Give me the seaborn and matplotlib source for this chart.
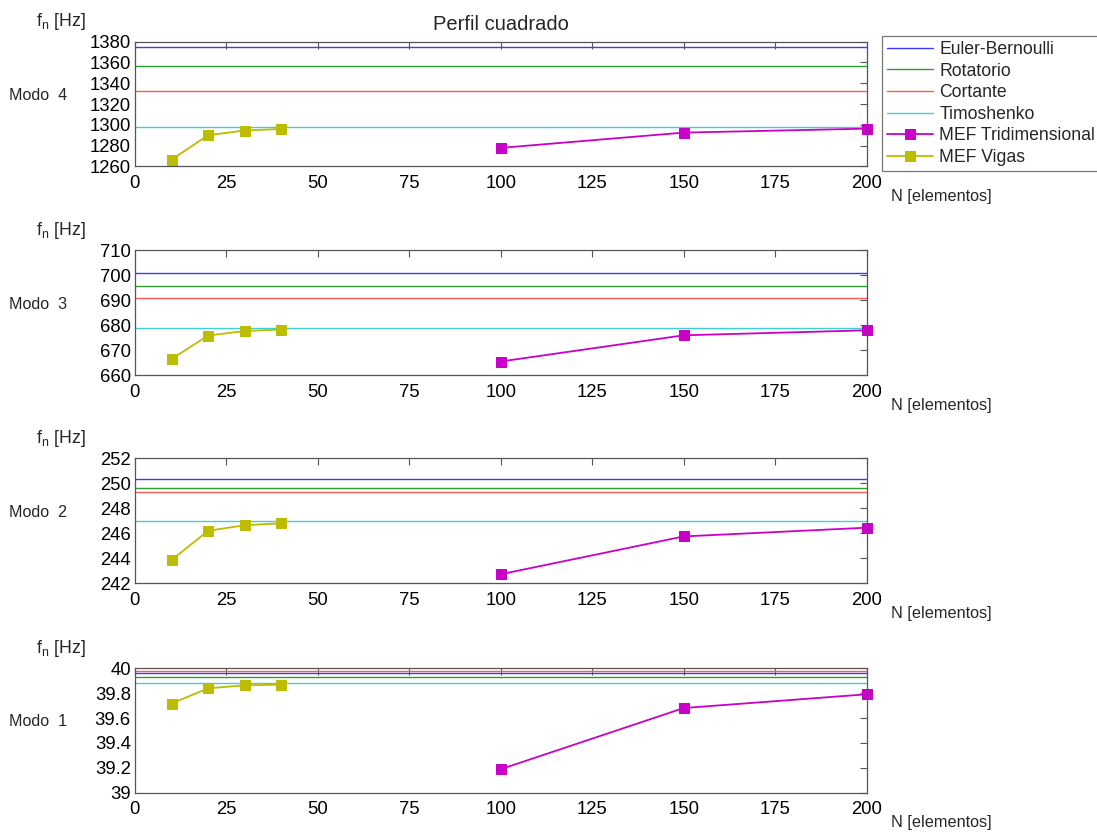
import matplotlib
matplotlib.use("Agg")
import matplotlib.pyplot as plt
import seaborn as sns
import pandas as pd

# ---- data ----
modes = [4, 3, 2, 1]
n_vigas = [10, 20, 30, 40]
n_3d = [100, 150, 200]
euler = {4: 1374.8, 3: 701.1, 2: 250.36, 1: 39.958}
rotatorio = {4: 1356.5, 3: 695.7, 2: 249.64, 1: 39.926}
cortante = {4: 1332.4, 3: 691.1, 2: 249.32, 1: 39.974}
timoshenko = {4: 1298.3, 3: 679.1, 2: 246.97, 1: 39.878}
mef_3d = {4: [1277.8, 1292.5, 1296.3], 3: [665.5, 676.0, 678.0],
          2: [242.72, 245.75, 246.45], 1: [39.19, 39.68, 39.79]}
mef_vigas = {4: [1266.5, 1290.0, 1294.5, 1296.0], 3: [666.5, 675.9, 677.7, 678.3],
             2: [243.86, 246.2, 246.65, 246.8], 1: [39.716, 39.838, 39.862, 39.867]}
ylims = {4: (1260, 1380), 3: (660, 710), 2: (242, 252), 1: (39, 40)}
yticks = {4: list(range(1260, 1381, 20)), 3: list(range(660, 711, 10)),
          2: list(range(242, 253, 2)), 1: [39, 39.2, 39.4, 39.6, 39.8, 40]}
yticklabels = {4: None, 3: None, 2: None, 1: ["39", "39.2", "39.4", "39.6", "39.8", "40"]}
xticks = [0, 25, 50, 75, 100, 125, 150, 175, 200]

sns.set_style("white")
plt.rcParams['font.family'] = ['Liberation Sans', 'DejaVu Sans']
plt.rcParams['mathtext.fontset'] = 'custom'
plt.rcParams['mathtext.rm'] = 'Liberation Sans'
plt.rcParams['mathtext.it'] = 'Liberation Sans'

fig = plt.figure(figsize=(10.97, 8.32), dpi=100)
bottoms = {4: 0.800, 3: 0.549, 2: 0.299, 1: 0.047}
col_e, col_r, col_c, col_t = "#3a3aff", "#2ea02e", "#ff5a5a", "#40d0d0"
col_3d, col_v = "#c800c8", "#bcbc00"

axes = {}
for m in modes:
    ax = fig.add_axes([0.123, bottoms[m], 0.667, 0.150])
    axes[m] = ax
    ax.axhline(euler[m], color=col_e, lw=1.0, label="Euler-Bernoulli")
    ax.axhline(rotatorio[m], color=col_r, lw=1.0, label="Rotatorio")
    ax.axhline(cortante[m], color=col_c, lw=1.0, label="Cortante")
    ax.axhline(timoshenko[m], color=col_t, lw=1.0, label="Timoshenko")
    d3 = pd.DataFrame({"N": n_3d, "f": mef_3d[m]})
    dv = pd.DataFrame({"N": n_vigas, "f": mef_vigas[m]})
    sns.lineplot(data=d3, x="N", y="f", ax=ax, color=col_3d, marker="s", markersize=6.5,
                 markeredgecolor=col_3d, lw=1.3, label="MEF Tridimensional", clip_on=False)
    sns.lineplot(data=dv, x="N", y="f", ax=ax, color=col_v, marker="s", markersize=6.5,
                 markeredgecolor=col_v, lw=1.3, label="MEF Vigas", clip_on=False)
    ax.set_xlim(0, 200)
    ax.set_ylim(*ylims[m])
    ax.set_xticks(xticks)
    ax.set_yticks(yticks[m])
    if yticklabels[m] is not None:
        ax.set_yticklabels(yticklabels[m])
    ax.set_xlabel("")
    ax.set_ylabel("")
    ax.tick_params(direction="in", length=5, width=0.8, top=True, right=True,
                   labelsize=13.3, colors="#555555", labelcolor="black")
    ax.tick_params(axis="x", pad=6)
    ax.tick_params(axis="y", pad=3)
    for s in ax.spines.values():
        s.set_color("#555555")
        s.set_linewidth(0.9)
    ax.text(-0.172, 0.57, f"Modo  {m}", transform=ax.transAxes, fontsize=11.6,
            ha="left", va="center")
    ax.text(-0.135, 1.16, "f$_\\mathregular{n}$ [Hz]", transform=ax.transAxes, fontsize=12.8,
            ha="left", va="center")
    ax.text(1.033, -0.24, "N [elementos]", transform=ax.transAxes, fontsize=11.7,
            ha="left", va="center")
    if m != 4:
        ax.get_legend().remove()

ax4 = axes[4]
ax4.set_title("Perfil cuadrado", fontsize=14.5, pad=8)
handles, labels = ax4.get_legend_handles_labels()
ax4.get_legend().remove()
leg = fig.legend(handles, labels, loc="upper left", bbox_to_anchor=(0.804, 0.957),
                 fontsize=12.7, frameon=True, fancybox=False, edgecolor="#555555",
                 handlelength=2.6, borderpad=0.3, labelspacing=0.26, handletextpad=0.35,
                 borderaxespad=0)
leg.get_frame().set_linewidth(0.9)

fig.savefig("out.png", dpi=100)
